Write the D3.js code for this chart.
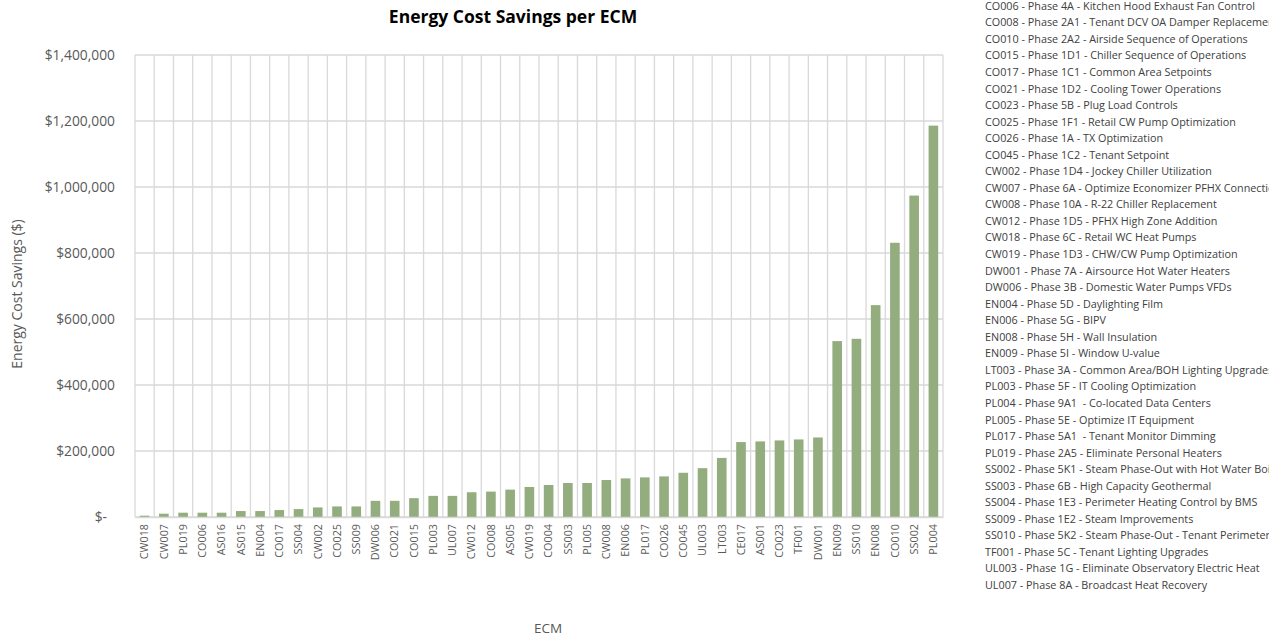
<!DOCTYPE html>
<html>
<head>
<meta charset="utf-8">
<script src="https://cdn.jsdelivr.net/npm/d3@7"></script>
<style>
  html, body { margin: 0; padding: 0; background: #fff; }
  svg { display: block; font-family: "Open Sans", "Noto Sans", sans-serif; }
</style>
</head>
<body>
<svg id="chart" width="1269" height="638"></svg>
<script>
// ECM codes along the x axis, sorted by savings
const ecmCodes = [
  "CW018","CW007","PL019","CO006","AS016","AS015","EN004","CO017","SS004","CW002",
  "CO025","SS009","DW006","CO021","CO015","PL003","UL007","CW012","CO008","AS005",
  "CW019","CO004","SS003","PL005","CW008","EN006","PL017","CO026","CO045","UL003",
  "LT003","CE017","AS001","CO023","TF001","DW001","EN009","SS010","EN008","CO010",
  "SS002","PL004"
];

// Annual energy cost savings per ECM ($)
const savings = [
  4000, 10000, 13000, 13000, 13000, 18000, 18000, 21000, 24000, 29000,
  32000, 32000, 49000, 49000, 57000, 64000, 64000, 75000, 77000, 83000,
  91000, 97000, 103000, 103000, 112000, 117000, 120000, 123000, 134000, 148000,
  179000, 227000, 229000, 232000, 235000, 241000, 533000, 540000, 642000, 831000,
  974000, 1186000
];

// Y axis ticks
const yTicks = [0, 200000, 400000, 600000, 800000, 1000000, 1200000, 1400000];

// ECM descriptions listed beside the chart
const ecmDescriptions = [
  "CO006 - Phase 4A - Kitchen Hood Exhaust Fan Control",
  "CO008 - Phase 2A1 - Tenant DCV OA Damper Replacement",
  "CO010 - Phase 2A2 - Airside Sequence of Operations",
  "CO015 - Phase 1D1 - Chiller Sequence of Operations",
  "CO017 - Phase 1C1 - Common Area Setpoints",
  "CO021 - Phase 1D2 - Cooling Tower Operations",
  "CO023 - Phase 5B - Plug Load Controls",
  "CO025 - Phase 1F1 - Retail CW Pump Optimization",
  "CO026 - Phase 1A - TX Optimization",
  "CO045 - Phase 1C2 - Tenant Setpoint",
  "CW002 - Phase 1D4 - Jockey Chiller Utilization",
  "CW007 - Phase 6A - Optimize Economizer PFHX Connection",
  "CW008 - Phase 10A - R-22 Chiller Replacement",
  "CW012 - Phase 1D5 - PFHX High Zone Addition",
  "CW018 - Phase 6C - Retail WC Heat Pumps",
  "CW019 - Phase 1D3 - CHW/CW Pump Optimization",
  "DW001 - Phase 7A - Airsource Hot Water Heaters",
  "DW006 - Phase 3B - Domestic Water Pumps VFDs",
  "EN004 - Phase 5D - Daylighting Film",
  "EN006 - Phase 5G - BIPV",
  "EN008 - Phase 5H - Wall Insulation",
  "EN009 - Phase 5I - Window U-value",
  "LT003 - Phase 3A - Common Area/BOH Lighting Upgrades",
  "PL003 - Phase 5F - IT Cooling Optimization",
  "PL004 - Phase 9A1  - Co-located Data Centers",
  "PL005 - Phase 5E - Optimize IT Equipment",
  "PL017 - Phase 5A1  - Tenant Monitor Dimming",
  "PL019 - Phase 2A5 - Eliminate Personal Heaters",
  "SS002 - Phase 5K1 - Steam Phase-Out with Hot Water Boilers",
  "SS003 - Phase 6B - High Capacity Geothermal",
  "SS004 - Phase 1E3 - Perimeter Heating Control by BMS",
  "SS009 - Phase 1E2 - Steam Improvements",
  "SS010 - Phase 5K2 - Steam Phase-Out - Tenant Perimeter",
  "TF001 - Phase 5C - Tenant Lighting Upgrades",
  "UL003 - Phase 1G - Eliminate Observatory Electric Heat",
  "UL007 - Phase 8A - Broadcast Heat Recovery"
];

const data = ecmCodes.map((c, i) => ({ code: c, value: savings[i] }));

const svg = d3.select("#chart");
const plot = { left: 135, right: 943, top: 55, bottom: 517 };

const x = d3.scaleBand()
  .domain(ecmCodes)
  .range([plot.left, plot.right])
  .paddingInner(0.5)
  .paddingOuter(0.25);

const y = d3.scaleLinear()
  .domain([0, 1400000])
  .range([plot.bottom, plot.top]);

const gridColor = "#d9d9d9";

// horizontal gridlines
svg.append("g")
  .selectAll("line")
  .data(yTicks)
  .join("line")
  .attr("x1", plot.left).attr("x2", plot.right)
  .attr("y1", d => y(d)).attr("y2", d => y(d))
  .attr("stroke", gridColor).attr("stroke-width", 1.3);

// vertical gridlines at category boundaries
const step = x.step();
svg.append("g")
  .selectAll("line")
  .data(d3.range(ecmCodes.length + 1))
  .join("line")
  .attr("x1", i => plot.left + i * step).attr("x2", i => plot.left + i * step)
  .attr("y1", plot.top).attr("y2", plot.bottom)
  .attr("stroke", gridColor).attr("stroke-width", 1.3);

// bars
svg.append("g")
  .selectAll("rect")
  .data(data)
  .join("rect")
  .attr("x", d => x(d.code))
  .attr("width", x.bandwidth())
  .attr("y", d => y(d.value))
  .attr("height", d => y(0) - y(d.value))
  .attr("fill", "#93ad7e");

// y axis
const yAxis = svg.append("g")
  .attr("transform", `translate(${plot.left},0)`)
  .call(d3.axisLeft(y).tickValues(yTicks).tickSize(0).tickPadding(20)
    .tickFormat(d => d === 0 ? "$-" : "$" + d3.format(",")(d)));
yAxis.select(".domain").remove();
yAxis.selectAll("text")
  .attr("font-size", 13.8)
  .attr("fill", "#595959")
  .attr("font-family", "'Open Sans', sans-serif")
  .attr("dx", d => d === 0 ? -8 : 0);

// x axis
const xAxis = svg.append("g")
  .attr("transform", `translate(0,${plot.bottom})`)
  .call(d3.axisBottom(x).tickSize(0).tickPadding(0));
xAxis.select(".domain").attr("stroke", gridColor).attr("stroke-width", 1.3);
xAxis.selectAll("text")
  .attr("font-size", 10.8)
  .attr("fill", "#595959")
  .attr("font-family", "'Open Sans', sans-serif")
  .attr("text-anchor", "end")
  .attr("transform", "rotate(-90)")
  .attr("x", -7)
  .attr("y", 0)
  .attr("dy", "0.35em");

// title
svg.append("text")
  .attr("x", 513).attr("y", 23)
  .attr("text-anchor", "middle")
  .attr("font-size", 17.5)
  .attr("font-weight", "bold")
  .attr("fill", "#000")
  .text("Energy Cost Savings per ECM");

// axis titles
svg.append("text")
  .attr("transform", "translate(22,294) rotate(-90)")
  .attr("text-anchor", "middle")
  .attr("font-size", 14)
  .attr("fill", "#595959")
  .text("Energy Cost Savings ($)");

svg.append("text")
  .attr("x", 548).attr("y", 633)
  .attr("text-anchor", "middle")
  .attr("font-size", 13.5)
  .attr("fill", "#595959")
  .text("ECM");

// ECM description list
svg.append("g")
  .selectAll("text")
  .data(ecmDescriptions)
  .join("text")
  .attr("x", 985)
  .attr("y", (d, i) => 6 + i * 16.55)
  .attr("dy", "0.35em")
  .attr("font-size", 10.8)
  .attr("fill", "#404040")
  .attr("xml:space", "preserve")
  .style("white-space", "pre")
  .text(d => d);
</script>
</body>
</html>
